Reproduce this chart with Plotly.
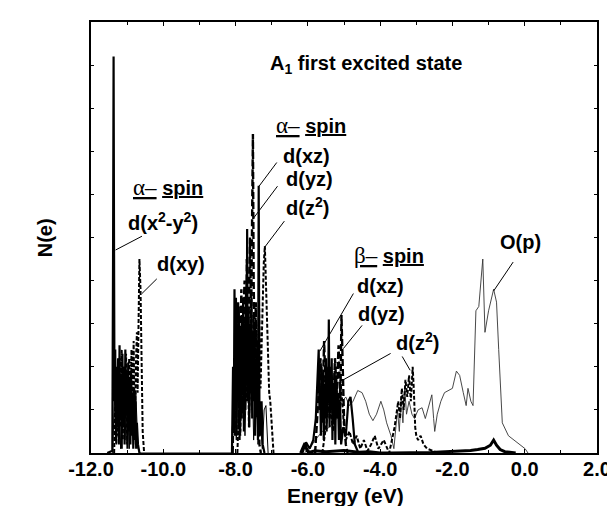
import plotly.graph_objects as go

# ---------------- data (energy in eV, N(e) in arbitrary units 0-100) ----------------
# alpha spin d(x2-y2)  (solid)
E_a_x2y2 = [-11.55, -11.41, -11.39, -11.375, -11.36, -11.35, -11.33, -11.31, -11.29, -11.27,
            -11.25, -11.23, -11.21, -11.19, -11.17, -11.15, -11.13, -11.11, -11.09, -11.07,
            -11.05, -11.03, -11.01, -10.99, -10.97, -10.95, -10.93, -10.91, -10.89, -10.87,
            -10.85, -10.83, -10.81, -10.79, -10.77, -10.75, -10.73, -10.70, -10.66]
N_a_x2y2 = [0, 0.5, 45, 92, 40, 12, 24, 3, 20, 6,
            22, 2, 25, 8, 18, 1, 23, 6, 20, 2,
            24, 9, 19, 1, 21, 5, 17, 2, 19, 4,
            14, 1, 15, 3, 12, 1, 7, 2, 0]
# alpha spin d(xy)  (dashed)
E_a_xy = [-11.36, -11.33, -11.30, -11.27, -11.24, -11.21, -11.18, -11.15, -11.12, -11.09,
          -11.06, -11.03, -11.00, -10.97, -10.94, -10.91, -10.88, -10.85, -10.82, -10.79,
          -10.76, -10.73, -10.71, -10.68, -10.66, -10.63, -10.60, -10.57, -10.53]
N_a_xy = [0, 12, 2, 18, 4, 22, 6, 24, 3, 20,
          8, 23, 2, 18, 22, 5, 24, 10, 26, 4,
          20, 28, 14, 44, 45, 38, 20, 5, 0]
# alpha spin d(xz)  (solid)
E_a_xz = [-8.10, -8.07, -8.05, -8.03, -8.01, -7.99, -7.97, -7.95, -7.93, -7.91, -7.89, -7.87,
          -7.85, -7.83, -7.81, -7.79, -7.77, -7.75, -7.73, -7.71, -7.69, -7.68, -7.66, -7.64,
          -7.62, -7.60, -7.58, -7.56, -7.54, -7.52, -7.50, -7.48, -7.46, -7.44, -7.42, -7.40,
          -7.38, -7.36, -7.34, -7.31, -7.28, -7.25, -7.20]
N_a_xz = [0, 20, 5, 38, 10, 36, 4, 30, 12, 34, 3, 28,
          8, 32, 14, 36, 5, 30, 10, 38, 18, 52, 12, 34,
          6, 30, 14, 36, 8, 28, 12, 30, 4, 22, 10, 26,
          3, 62, 10, 4, 12, 2, 0]
# alpha spin d(yz)  (long dash)
E_a_yz = [-8.08, -8.05, -8.02, -7.99, -7.96, -7.93, -7.90, -7.87, -7.84, -7.81, -7.78, -7.75,
          -7.72, -7.69, -7.66, -7.63, -7.60, -7.57, -7.55, -7.52, -7.50, -7.47, -7.44, -7.41,
          -7.38, -7.34, -7.30]
N_a_yz = [0, 15, 4, 30, 12, 35, 6, 28, 38, 10, 33, 40,
          16, 45, 25, 36, 50, 30, 55, 74, 40, 22, 35, 8,
          15, 2, 0]
# alpha spin d(z2)  (short dash)
E_a_z2 = [-7.95, -7.91, -7.87, -7.83, -7.79, -7.75, -7.71, -7.67, -7.63, -7.59, -7.55, -7.51,
          -7.47, -7.43, -7.39, -7.35, -7.31, -7.27, -7.24, -7.22, -7.19, -7.16, -7.13, -7.10,
          -7.07, -7.04, -7.01, -6.98, -6.95]
N_a_z2 = [0, 10, 4, 22, 8, 30, 12, 26, 6, 28, 10, 32,
          16, 30, 8, 35, 15, 28, 40, 44, 48, 40, 30, 20,
          14, 12, 8, 3, 0]
# alpha spin, remaining d weight inside the clusters  (thin solid)
E_a_thin = [-11.40, -11.35, -11.30, -11.24, -11.18, -11.12, -11.06, -11.00, -10.94, -10.88,
            -10.82, -10.76, -10.70, -10.64, -8.10, -8.05, -7.98, -7.92, -7.86, -7.80,
            -7.74, -7.68, -7.62, -7.56, -7.50, -7.44, -7.38, -7.32, -7.26, -7.21, -7.16,
            -7.10]
N_a_thin = [0, 14, 2, 16, 1, 18, 3, 15, 1, 17, 2, 14, 1, 0, 0, 22, 3, 26, 5, 30,
            4, 24, 6, 28, 3, 20, 2, 8, 1, 10, 11, 0]
# beta spin d(xz)  (solid)
E_b_xz = [-6.15, -6.05, -5.95, -5.85, -5.78, -5.74, -5.72, -5.70, -5.68, -5.66, -5.64, -5.62,
          -5.60, -5.58, -5.56, -5.54, -5.52, -5.50, -5.48, -5.46, -5.44, -5.42, -5.40, -5.38,
          -5.36, -5.34, -5.32, -5.30, -5.28, -5.26, -5.24, -5.22, -5.20, -5.17, -5.14, -5.11,
          -5.08, -5.02, -4.95, -4.88, -4.82, -4.76, -4.70, -4.60]
N_b_xz = [0, 2.5, 1, 3, 8, 14, 20, 24, 10, 15, 4, 20,
          7, 18, 3, 16, 8, 22, 5, 18, 12, 31, 6, 20,
          10, 22, 3, 16, 7, 19, 2, 18, 8, 14, 3, 12,
          2, 6, 4, 12, 13, 8, 2, 0]
# beta spin d(yz)  (long dash)
E_b_yz = [-5.80, -5.75, -5.70, -5.65, -5.60, -5.55, -5.50, -5.45, -5.40, -5.35, -5.30, -5.25,
          -5.20, -5.15, -5.10, -5.07, -5.04, -5.00, -4.95, -4.90]
N_b_yz = [0, 6, 14, 22, 10, 26, 12, 20, 8, 18, 10, 22,
          14, 25, 12, 32, 18, 8, 2, 0]
# beta spin d(z2)  (short dash)
E_b_z2 = [-5.60, -5.50, -5.40, -5.30, -5.20, -5.15, -5.10, -5.05, -5.00, -4.95, -4.85, -4.75,
          -4.65, -4.55, -4.45, -4.35, -4.25, -4.15, -4.05, -3.90, -3.75, -3.60, -3.50, -3.45,
          -3.40, -3.35, -3.30, -3.25, -3.20, -3.15, -3.12, -3.10, -3.07, -3.03, -3.00, -2.95,
          -2.88, -2.80, -2.70, -2.55, -2.40]
N_b_z2 = [0, 6, 12, 5, 14, 8, 17, 12, 6, 3, 5, 2,
          4, 1, 3, 0.5, 2, 4, 1, 3, 0, 6, 12, 8,
          15, 10, 17, 13, 18, 12, 19, 20, 15, 6, 4, 3,
          4, 2, 1, 0.5, 0]
# other d contributions near the baseline  (thick solid)
E_base = [-6.20, -6.08, -6.02, -5.95, -5.80, -5.50, -5.00, -4.60, -4.30, -4.00, -3.70, -3.30,
          -3.00, -2.60, -2.20, -1.80, -1.50, -1.30, -1.10, -0.95, -0.86, -0.78, -0.68, -0.55,
          -0.40, -0.25]
N_base = [0, 2.3, 0.5, 0.2, 0.5, 0.3, 0.6, 0.2, 0.3, 0, 0, 0,
          0, 0.1, 0.3, 0.4, 0.6, 0.8, 1.1, 1.8, 3.0, 1.8, 0.8, 0.3,
          0.1, 0]
# O(p)  (thin solid)
E_op = [-6.10, -5.95, -5.80, -5.60, -5.40, -5.20, -5.05, -4.95, -4.85, -4.75, -4.62, -4.50,
        -4.40, -4.30, -4.20, -4.10, -3.98, -3.90, -3.82, -3.70, -3.62, -3.57, -3.52, -3.47,
        -3.42, -3.37, -3.32, -3.27, -3.20, -3.12, -3.05, -2.95, -2.84, -2.75, -2.65, -2.57,
        -2.52, -2.49, -2.42, -2.32, -2.22, -2.10, -2.00, -1.89, -1.80, -1.70, -1.62, -1.57,
        -1.54, -1.49, -1.43, -1.35, -1.27, -1.21, -1.16, -1.10, -1.00, -0.86, -0.78, -0.72,
        -0.62, -0.45, -0.18, 0.01, 0.09]
N_op = [0, 1, 3, 5, 6, 8, 12, 13, 11, 12, 14.5, 14,
        12, 9, 7.5, 9, 12, 10, 7, 4, 1, 6, 10, 5,
        13, 7, 15, 9, 12, 9, 8, 10, 10.5, 8, 11, 13.5,
        8, 5, 9, 12, 14, 14.5, 15, 19, 18, 14, 11, 15,
        14, 12, 11, 33, 34, 41, 45, 28, 33, 38, 35, 24,
        7, 4, 2.3, 1, 0]

x_ticks = [-12, -10, -8, -6, -4, -2, 0, 2]
x_tick_text = ["-12.0", "-10.0", "-8.0", "-6.0", "-4.0", "-2.0", "0.0", "2.0"]

# ---------------- figure ----------------
fig = go.Figure()

def add(E, N, width, dash="solid", color="black"):
    fig.add_trace(go.Scatter(x=E, y=N, mode="lines", hoverinfo="skip",
                             line=dict(color=color, width=width, dash=dash)))

LONG = "7px,3px"
SHORT = "4px,2px"
add(E_op, N_op, 0.9, color="#333333")
add(E_a_thin, N_a_thin, 1.0)
add(E_base, N_base, 3)
add(E_a_x2y2, N_a_x2y2, 2.2)
add(E_a_xy, N_a_xy, 2, SHORT)
add(E_a_xz, N_a_xz, 2.2)
add(E_a_yz, N_a_yz, 2.4, LONG)
add(E_a_z2, N_a_z2, 2, SHORT)
add(E_b_xz, N_b_xz, 2.2)
add(E_b_yz, N_b_yz, 2.4, LONG)
add(E_b_z2, N_b_z2, 2, SHORT)

FONT = "Liberation Sans, Arial, sans-serif"
SERIF = "Liberation Serif, Times New Roman, serif"

def spin(greek):
    return (f"<span style='font-family:{SERIF};font-weight:normal;font-size:23px'>"
            f"<u>{greek}–</u></span> <u><b>spin</b></u>")

labels = [
    ("<b>A<sub>1</sub> first excited state</b>", -7.11, 90.1),
    (spin("α"), -10.90, 61.5),
    ("<b>d(x<sup>2</sup>-y<sup>2</sup>)</b>", -11.02, 53.6),
    ("<b>d(xy)</b>", -10.23, 43.9),
    (spin("α"), -6.95, 76.0),
    ("<b>d(xz)</b>", -6.73, 68.8),
    ("<b>d(yz)</b>", -6.67, 63.5),
    ("<b>d(z<sup>2</sup>)</b>", -6.67, 57.3),
    (spin("β"), -4.77, 45.8),
    ("<b>d(xz)</b>", -4.69, 38.8),
    ("<b>d(yz)</b>", -4.66, 32.3),
    ("<b>d(z<sup>2</sup>)</b>", -3.62, 25.9),
    ("<b>O(p)</b>", -0.75, 49.0),
]
for txt, x, y in labels:
    fig.add_annotation(x=x, y=y, text=txt, showarrow=False, xanchor="left", yanchor="middle",
                       font=dict(family=FONT, size=20, color="black"))

pointers = [
    (-10.59, 50.3, -11.32, 47.1),
    (-10.18, 40.4, -10.59, 37.0),
    (-6.86, 67.4, -7.35, 61.9),
    (-6.84, 61.9, -7.52, 54.3),
    (-6.65, 53.8, -7.19, 47.8),
    (-4.74, 37.0, -5.67, 23.6),
    (-4.50, 29.6, -5.02, 24.2),
    (-3.71, 23.1, -5.10, 16.6),
    (-3.39, 22.4, -3.17, 19.2),
    (-0.32, 44.3, -0.86, 37.6),
]
for x0, y0, x1, y1 in pointers:
    fig.add_shape(type="line", x0=x0, y0=y0, x1=x1, y1=y1, xref="x", yref="y",
                  line=dict(color="black", width=1))

fig.add_annotation(xref="paper", yref="paper", x=-0.117, y=0.50, text="<b>N(e)</b>",
                   textangle=-90, showarrow=False, font=dict(family=FONT, size=20, color="black"))
fig.add_annotation(xref="paper", yref="paper", x=0.503, y=-0.068, yanchor="top",
                   text="<b>Energy (eV)</b>", showarrow=False,
                   font=dict(family=FONT, size=21, color="black"))

fig.update_layout(
    width=615, height=506,
    margin=dict(l=83, r=17, t=12, b=61),
    paper_bgcolor="white", plot_bgcolor="white",
    showlegend=False,
    xaxis=dict(range=[-12, 2], tickvals=x_ticks, ticktext=[f"<b>{t}</b>" for t in x_tick_text],
               tickfont=dict(family=FONT, size=20, color="black"),
               ticklabelstandoff=-3,
               showline=True, linecolor="black", linewidth=2, mirror="ticks",
               ticks="inside", ticklen=4, tickcolor="black",
               minor=dict(ticks="inside", ticklen=3, dtick=1, tickcolor="black"),
               showgrid=False, zeroline=False),
    yaxis=dict(range=[0, 100], showticklabels=False,
               showline=True, linecolor="black", linewidth=2, mirror="ticks",
               ticks="inside", ticklen=3, dtick=10, tickcolor="black",
               showgrid=False, zeroline=False),
)

fig.write_html("out.html")
